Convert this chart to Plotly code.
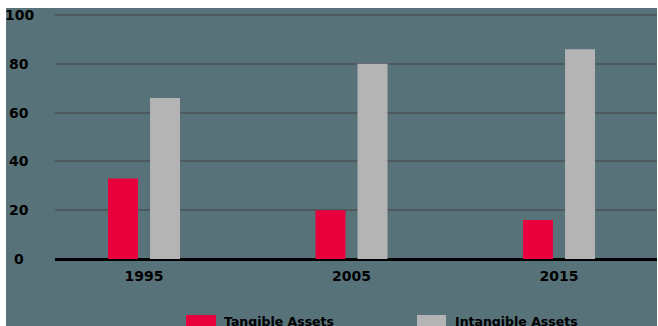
import plotly.graph_objects as go

# Chart data
years = ["1995", "2005", "2015"]
tangible = [33, 20, 16]
intangible = [66, 80, 86]
y_ticks = [0, 20, 40, 60, 80, 100]
series_names = ["Tangible Assets", "Intangible Assets"]

BG = "#587279"
RED = "#e8003d"
GREY = "#b4b4b4"
GRID = "#4f5a5e"
LABEL_FONT = dict(family="DejaVu Sans", size=14, color="#000000", weight="bold")
LEGEND_FONT = dict(family="DejaVu Sans", size=12.5, color="#000000", weight="bold")

W, H = 658, 326
ML, MR, MT, MB = 55, 0, 8, 66
PW = W - ML - MR
PH = H - MT - MB


def px_x(p):
    return (p - ML) / PW


def px_y(p):
    return (H - MB - p) / PH


fig = go.Figure()
fig.add_trace(go.Bar(x=years, y=tangible, name=series_names[0],
                     marker=dict(color=RED, line=dict(width=0))))
fig.add_trace(go.Bar(x=years, y=intangible, name=series_names[1],
                     marker=dict(color=GREY, line=dict(width=0))))

fig.update_layout(
    width=W, height=H,
    margin=dict(l=ML, r=MR, t=MT, b=MB, pad=0),
    paper_bgcolor=BG, plot_bgcolor=BG,
    barmode="group", bargap=0.595, bargroupgap=0.286,
    showlegend=False,
    font=LABEL_FONT,
)
fig.update_xaxes(
    type="category", range=[-0.429, 2.477],
    showgrid=False, zeroline=False, showline=False,
    ticks="", tickfont=LABEL_FONT,
    ticklabelstandoff=6,
)
fig.update_yaxes(
    range=[-0.41, 102.87],
    tickvals=y_ticks, showticklabels=False, ticks="",
    showgrid=True, gridcolor=GRID, gridwidth=2,
    zeroline=True, zerolinecolor="#000000", zerolinewidth=3,
    showline=False,
)

# Y tick labels, centred in the left gutter
for v in y_ticks:
    fig.add_annotation(x=px_x(19), xref="paper", y=v, yref="y",
                       text=str(v), showarrow=False, xanchor="center",
                       yanchor="middle", font=LABEL_FONT)

# Legend row below the axis
legend_items = [(series_names[0], RED, 186, 216, 222),
                (series_names[1], GREY, 417, 446, 453)]
for name, col, x0, x1, tx in legend_items:
    fig.add_shape(type="rect", xref="paper", yref="paper",
                  x0=px_x(x0), x1=px_x(x1), y0=px_y(315), y1=px_y(345),
                  fillcolor=col, line=dict(width=0), layer="above")
    fig.add_annotation(x=px_x(tx), xref="paper", y=px_y(312), yref="paper",
                       text=name, showarrow=False, xanchor="left",
                       yanchor="top", font=LEGEND_FONT)

# White frame along top, left and right edges
fig.add_shape(type="rect", xref="paper", yref="paper",
              x0=px_x(0), x1=px_x(W), y0=px_y(0), y1=px_y(8),
              fillcolor="white", line=dict(width=0), layer="above")
fig.add_shape(type="rect", xref="paper", yref="paper",
              x0=px_x(0), x1=px_x(6), y0=px_y(0), y1=px_y(H),
              fillcolor="white", line=dict(width=0), layer="above")
fig.add_shape(type="rect", xref="paper", yref="paper",
              x0=px_x(657), x1=px_x(W), y0=px_y(0), y1=px_y(H),
              fillcolor="white", line=dict(width=0), layer="above")

fig.write_html("out.html")
